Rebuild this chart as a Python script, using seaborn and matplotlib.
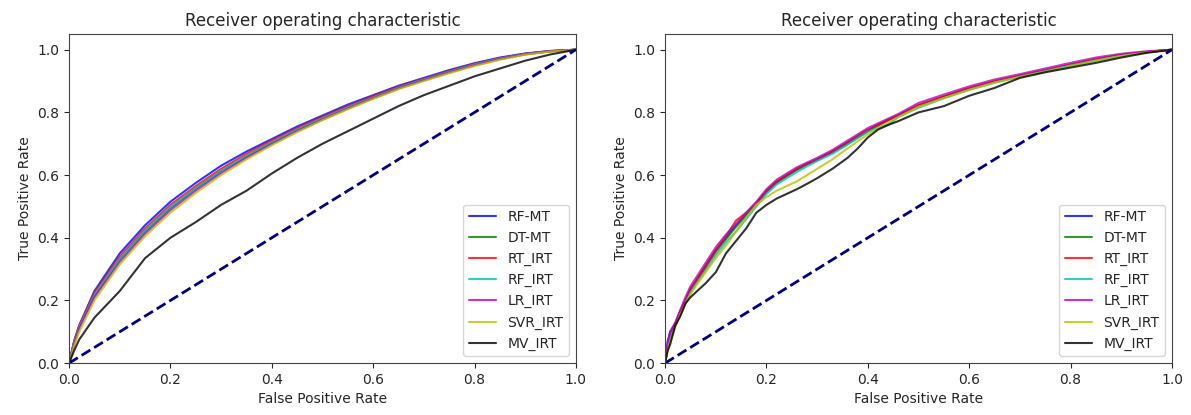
import pandas as pd
import matplotlib
matplotlib.use("Agg")
import matplotlib.pyplot as plt
import seaborn as sns

# model names and line colours (same order in both panels)
models = ["RF-MT", "DT-MT", "RT_IRT", "RF_IRT", "LR_IRT", "SVR_IRT", "MV_IRT"]
colors = ["b", "g", "r", "c", "m", "y", "k"]

# ---- left panel: false positive rate grid and true positive rates ----
fpr_left = [0, 0.01, 0.02, 0.05, 0.1, 0.15, 0.2, 0.25, 0.3, 0.35, 0.4, 0.45,
            0.5, 0.55, 0.6, 0.65, 0.7, 0.75, 0.8, 0.85, 0.9, 0.95, 1.0]
left_rf_mt = [0, 0.07, 0.12, 0.23, 0.35, 0.44, 0.515, 0.575, 0.63, 0.675, 0.715, 0.755,
              0.79, 0.825, 0.855, 0.885, 0.91, 0.935, 0.957, 0.975, 0.988, 0.996, 1.0]
left_dt_mt = [0, 0.065, 0.115, 0.215, 0.33, 0.42, 0.495, 0.557, 0.612, 0.66, 0.703, 0.744,
              0.78, 0.815, 0.847, 0.878, 0.904, 0.929, 0.952, 0.971, 0.986, 0.995, 1.0]
left_rt_irt = [0, 0.07, 0.12, 0.225, 0.34, 0.43, 0.505, 0.565, 0.62, 0.668, 0.71, 0.75,
               0.786, 0.82, 0.852, 0.882, 0.907, 0.932, 0.955, 0.973, 0.987, 0.996, 1.0]
left_rf_irt = [0, 0.066, 0.116, 0.218, 0.332, 0.423, 0.498, 0.558, 0.613, 0.661, 0.704, 0.745,
               0.781, 0.816, 0.848, 0.879, 0.905, 0.93, 0.953, 0.972, 0.986, 0.995, 1.0]
left_lr_irt = [0, 0.062, 0.11, 0.21, 0.322, 0.413, 0.488, 0.55, 0.606, 0.655, 0.699, 0.74,
               0.777, 0.812, 0.845, 0.876, 0.902, 0.927, 0.95, 0.97, 0.985, 0.995, 1.0]
left_svr_irt = [0, 0.055, 0.10, 0.20, 0.315, 0.405, 0.48, 0.543, 0.60, 0.65, 0.695, 0.737,
                0.775, 0.81, 0.843, 0.874, 0.9, 0.925, 0.948, 0.968, 0.984, 0.994, 1.0]
left_mv_irt = [0, 0.04, 0.075, 0.145, 0.23, 0.335, 0.40, 0.45, 0.505, 0.55, 0.605, 0.655,
               0.70, 0.74, 0.78, 0.82, 0.855, 0.885, 0.915, 0.94, 0.965, 0.985, 1.0]

# ---- right panel ----
fpr_right = [0, 0.005, 0.01, 0.02, 0.03, 0.04, 0.05, 0.06, 0.08, 0.1, 0.12, 0.14, 0.16,
             0.18, 0.2, 0.22, 0.24, 0.26, 0.28, 0.3, 0.33, 0.36, 0.38, 0.4, 0.42, 0.44,
             0.46, 0.5, 0.55, 0.6, 0.65, 0.7, 0.75, 0.8, 0.85, 0.9, 0.95, 1.0]
right_rf_mt = [0, 0.07, 0.10, 0.125, 0.165, 0.20, 0.235, 0.26, 0.31, 0.36, 0.40, 0.44, 0.475,
               0.51, 0.548, 0.577, 0.598, 0.618, 0.635, 0.65, 0.675, 0.703, 0.722, 0.742, 0.76,
               0.775, 0.79, 0.822, 0.85, 0.876, 0.898, 0.916, 0.934, 0.952, 0.969, 0.983, 0.993, 1.0]
right_dt_mt = [0, 0.05, 0.08, 0.12, 0.16, 0.195, 0.23, 0.255, 0.305, 0.355, 0.395, 0.435, 0.47,
               0.505, 0.545, 0.575, 0.597, 0.617, 0.633, 0.648, 0.672, 0.7, 0.72, 0.74, 0.758,
               0.775, 0.79, 0.82, 0.848, 0.874, 0.897, 0.915, 0.932, 0.95, 0.967, 0.982, 0.992, 1.0]
right_rt_irt = [0, 0.05, 0.085, 0.125, 0.165, 0.2, 0.235, 0.26, 0.31, 0.36, 0.405, 0.455, 0.48,
                0.51, 0.55, 0.58, 0.6, 0.62, 0.636, 0.65, 0.675, 0.705, 0.725, 0.745, 0.76,
                0.776, 0.79, 0.824, 0.851, 0.878, 0.9, 0.918, 0.935, 0.953, 0.97, 0.984, 0.993, 1.0]
right_rf_irt = [0, 0.05, 0.08, 0.12, 0.155, 0.19, 0.225, 0.25, 0.295, 0.345, 0.385, 0.42, 0.46,
                0.5, 0.54, 0.57, 0.59, 0.61, 0.628, 0.645, 0.668, 0.697, 0.718, 0.738, 0.752,
                0.76, 0.785, 0.815, 0.845, 0.872, 0.895, 0.914, 0.932, 0.95, 0.966, 0.981, 0.992, 1.0]
right_lr_irt = [0, 0.06, 0.10, 0.13, 0.17, 0.21, 0.245, 0.27, 0.32, 0.37, 0.41, 0.445, 0.48,
                0.515, 0.555, 0.585, 0.605, 0.625, 0.64, 0.655, 0.68, 0.71, 0.73, 0.75, 0.765,
                0.78, 0.795, 0.83, 0.857, 0.883, 0.905, 0.922, 0.94, 0.958, 0.975, 0.987, 0.995, 1.0]
right_svr_irt = [0, 0.04, 0.07, 0.115, 0.155, 0.19, 0.22, 0.245, 0.29, 0.335, 0.375, 0.42, 0.465,
                 0.505, 0.53, 0.55, 0.565, 0.58, 0.6, 0.62, 0.65, 0.685, 0.708, 0.73, 0.75,
                 0.768, 0.785, 0.818, 0.846, 0.872, 0.895, 0.913, 0.93, 0.948, 0.965, 0.98, 0.991, 1.0]
right_mv_irt = [0, 0.04, 0.06, 0.12, 0.15, 0.19, 0.21, 0.225, 0.255, 0.29, 0.35, 0.39, 0.43,
                0.48, 0.505, 0.525, 0.54, 0.555, 0.572, 0.59, 0.62, 0.655, 0.685, 0.72, 0.745,
                0.76, 0.772, 0.80, 0.82, 0.853, 0.878, 0.91, 0.928, 0.943, 0.958, 0.975, 0.99, 1.0]

left_series = [left_rf_mt, left_dt_mt, left_rt_irt, left_rf_irt,
               left_lr_irt, left_svr_irt, left_mv_irt]
right_series = [right_rf_mt, right_dt_mt, right_rt_irt, right_rf_irt,
                right_lr_irt, right_svr_irt, right_mv_irt]


def long_table(fpr, series):
    frames = []
    for name, tpr in zip(models, series):
        frames.append(pd.DataFrame({"fpr": fpr, "tpr": tpr, "model": name}))
    return pd.concat(frames, ignore_index=True)


sns.set_style("ticks")
plt.rcParams["font.family"] = ["DejaVu Sans"]

fig, axes = plt.subplots(1, 2, figsize=(11.91, 4.15), dpi=100)
fig.subplots_adjust(left=0.058, right=0.984, bottom=0.125, top=0.918, wspace=0.176)

for ax, fpr, series in zip(axes, [fpr_left, fpr_right], [left_series, right_series]):
    df = long_table(fpr, series)
    sns.lineplot(data=df, x="fpr", y="tpr", hue="model", hue_order=models,
                 palette=dict(zip(models, colors)), estimator=None, sort=False,
                 lw=1.5, alpha=0.8, ax=ax)
    ax.plot([0, 1], [0, 1], color="navy", lw=2, linestyle="--")
    ax.set_xlim(0.0, 1.0)
    ax.set_ylim(0.0, 1.05)
    ax.set_xlabel("False Positive Rate", fontsize=10)
    ax.set_ylabel("True Positive Rate", fontsize=10)
    ax.set_title("Receiver operating characteristic", fontsize=12)
    ax.tick_params(labelsize=10)
    for s in ax.spines.values():
        s.set_color("#444444")
    ax.legend(loc="lower right", fontsize=10, title=None)

fig.savefig("out.png", dpi=100)
